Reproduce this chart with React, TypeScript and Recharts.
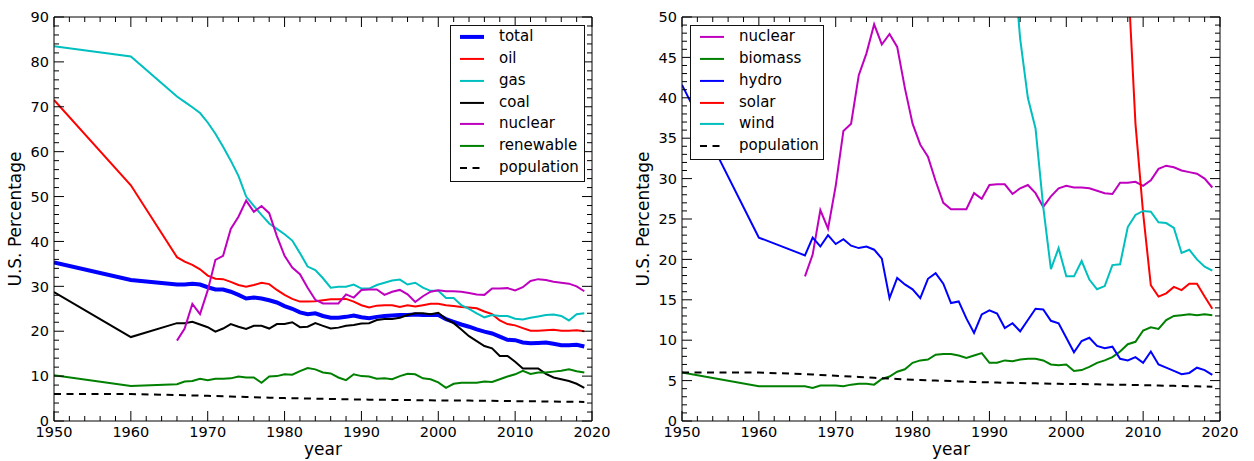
import React from 'react';
import { LineChart, Line, XAxis, YAxis, Legend } from 'recharts';

const FONT = '"DejaVu Sans", sans-serif';

// annual shares (%); 1950 and 1960 then yearly from 1966
const years = [
  1950, 1960,
  1966, 1967, 1968, 1969,
  1970, 1971, 1972, 1973, 1974, 1975, 1976, 1977, 1978, 1979,
  1980, 1981, 1982, 1983, 1984, 1985, 1986, 1987, 1988, 1989,
  1990, 1991, 1992, 1993, 1994, 1995, 1996, 1997, 1998, 1999,
  2000, 2001, 2002, 2003, 2004, 2005, 2006, 2007, 2008, 2009,
  2010, 2011, 2012, 2013, 2014, 2015, 2016, 2017, 2018, 2019,
];

const total = [
  35.3, 31.4,
  30.4, 30.4, 30.6, 30.4,
  29.8, 29.3, 29.3, 28.8, 28.1, 27.3, 27.5, 27.3, 26.9, 26.4,
  25.6, 25.0, 24.2, 23.8, 24.0, 23.4, 23.0, 23.0, 23.2, 23.5,
  23.1, 22.9, 23.2, 23.4, 23.5, 23.6, 23.6, 23.7, 23.6, 23.6,
  23.6, 22.7, 22.1, 21.5, 21.0, 20.4, 19.9, 19.5, 18.8, 18.1,
  18.0, 17.5, 17.3, 17.4, 17.5, 17.2, 16.9, 16.9, 17.0, 16.6,
];

const oil = [
  71.5, 52.5,
  36.5, 35.5, 34.8, 33.8,
  32.4, 31.7, 31.6, 31.0, 30.3, 29.9, 30.3, 30.8, 30.5, 29.2,
  28.1, 27.2, 26.6, 26.6, 26.7, 26.9, 27.1, 27.1, 27.2, 26.6,
  25.8, 25.3, 25.7, 25.8, 25.8, 25.4, 25.8, 25.5, 25.8, 26.1,
  26.1, 25.8, 25.6, 25.4, 25.3, 25.1, 24.4, 23.8, 22.4, 21.6,
  21.3, 20.7, 20.1, 20.1, 20.2, 20.3, 20.1, 20.1, 20.2, 20.0,
];

const gas = [
  83.5, 81.2,
  72.3, 71.1, 69.9, 68.6,
  66.5, 64.0, 61.1, 58.0, 54.6, 50.0, 47.9, 45.9, 44.0, 42.8,
  41.6, 40.2, 37.4, 34.4, 33.6, 31.8, 29.7, 29.9, 29.9, 30.4,
  29.5, 29.5, 30.3, 30.8, 31.3, 31.5, 30.4, 30.8, 29.7, 29.0,
  29.0, 27.4, 27.4, 25.8, 25.0, 24.0, 23.1, 23.6, 23.4, 23.4,
  22.8, 22.6, 23.0, 23.3, 23.6, 23.7, 23.4, 22.4, 23.8, 24.0,
];

const coal = [
  28.7, 18.7,
  21.8, 21.8, 22.1, 21.5,
  20.9, 19.9, 20.6, 21.6, 21.0, 20.5, 21.2, 21.2, 20.6, 21.6,
  21.6, 22.0, 20.9, 21.0, 21.8, 21.2, 20.6, 20.8, 21.2, 21.4,
  21.7, 21.8, 22.5, 22.7, 22.7, 23.0, 23.6, 24.0, 24.0, 23.8,
  24.1, 22.7, 21.8, 20.4, 18.9, 17.8, 16.7, 16.2, 14.5, 14.5,
  13.2, 11.7, 11.7, 11.7, 10.5, 9.7, 9.3, 8.9, 8.3, 7.4,
];

const nuclear = [
  null, null,
  17.9, 20.6, 26.1, 23.8,
  29.1, 35.9, 36.8, 42.8, 45.5, 49.1, 46.6, 47.9, 46.3, 41.2,
  36.8, 34.2, 32.7, 29.7, 27.0, 26.2, 26.2, 26.2, 28.2, 27.5,
  29.2, 29.3, 29.3, 28.1, 28.8, 29.2, 28.2, 26.5, 27.8, 28.8,
  29.1, 28.9, 28.9, 28.8, 28.5, 28.2, 28.1, 29.5, 29.5, 29.6,
  29.1, 29.8, 31.2, 31.6, 31.4, 31.0, 30.8, 30.6, 30.0, 28.9,
];

const renewable = [
  10.2, 7.8,
  8.2, 8.8, 8.9, 9.4,
  9.1, 9.4, 9.4, 9.5, 9.9, 9.7, 9.7, 8.5, 9.9, 10.0,
  10.4, 10.3, 11.1, 11.8, 11.5, 10.8, 10.6, 9.7, 9.1, 10.4,
  10.0, 9.9, 9.4, 9.5, 9.3, 10.0, 10.5, 10.4, 9.5, 9.3,
  8.6, 7.4, 8.3, 8.5, 8.5, 8.5, 8.8, 8.7, 9.3, 9.9,
  10.4, 11.2, 10.5, 10.8, 10.8, 11.0, 11.2, 11.5, 11.1, 10.8,
];

const population = [
  6.0, 6.0,
  5.8, 5.75, 5.7, 5.65,
  5.6, 5.55, 5.5, 5.45, 5.4, 5.35, 5.3, 5.25, 5.2, 5.15,
  5.1, 5.07, 5.04, 5.0, 4.97, 4.94, 4.9, 4.87, 4.84, 4.8,
  4.78, 4.76, 4.74, 4.72, 4.7, 4.68, 4.66, 4.64, 4.62, 4.6,
  4.59, 4.58, 4.57, 4.55, 4.54, 4.52, 4.5, 4.49, 4.47, 4.45,
  4.43, 4.41, 4.39, 4.37, 4.35, 4.33, 4.31, 4.29, 4.27, 4.25,
];

const biomass = [
  6.0, 4.3,
  4.3, 4.1, 4.4, 4.4,
  4.4, 4.3, 4.5, 4.6, 4.6, 4.5, 5.2, 5.5, 6.1, 6.4,
  7.2, 7.5, 7.6, 8.2, 8.3, 8.3, 8.1, 7.8, 8.1, 8.4,
  7.2, 7.2, 7.5, 7.4, 7.6, 7.7, 7.7, 7.5, 7.0, 6.9,
  7.0, 6.2, 6.3, 6.7, 7.2, 7.5, 7.9, 8.6, 9.5, 9.8,
  11.2, 11.6, 11.4, 12.5, 13.0, 13.1, 13.2, 13.1, 13.2, 13.1,
];

const hydro = [
  41.6, 22.7,
  20.5, 22.7, 21.6, 23.0,
  21.9, 22.5, 21.7, 21.4, 21.6, 21.2, 20.1, 15.2, 17.7, 16.9,
  16.3, 15.2, 17.6, 18.3, 17.0, 14.6, 14.8, 12.7, 10.9, 13.2,
  13.7, 13.3, 11.5, 12.1, 11.1, 12.5, 13.9, 13.8, 12.4, 12.1,
  10.3, 8.5, 9.9, 10.3, 9.3, 9.0, 9.2, 7.7, 7.5, 7.9,
  7.2, 8.6, 7.0, 6.6, 6.2, 5.8, 5.95, 6.6, 6.3, 5.7,
];

// early solar / wind values run far above the 50% ceiling and are clipped
const solar = [
  null, null,
  null, null, null, null,
  null, null, null, null, null, null, null, null, null, null,
  null, null, null, null, null, null, null, null, null, null,
  null, null, null, null, null, null, null, null, null, null,
  null, null, null, null, null, null, 140, 85, 55.5, 36.8,
  25.7, 16.8, 15.4, 15.8, 16.6, 16.2, 17.0, 17.0, 15.4, 13.9,
];

const wind = [
  null, null,
  null, null, null, null,
  null, null, null, null, null, null, null, null, null, null,
  null, null, null, null, null, null, null, null, null, null,
  140, 105, 78, 58.5, 47.3, 40.0, 36.2, 26.5, 18.8, 21.4,
  17.9, 17.9, 19.8, 17.5, 16.3, 16.7, 19.3, 19.4, 24.0, 25.5,
  26.0, 25.9, 24.6, 24.5, 23.9, 20.8, 21.2, 20.0, 19.1, 18.6,
];

const yearTicks = [
  1950, 1952, 1954, 1956, 1958, 1960, 1962, 1964, 1966, 1968,
  1970, 1972, 1974, 1976, 1978, 1980, 1982, 1984, 1986, 1988,
  1990, 1992, 1994, 1996, 1998, 2000, 2002, 2004, 2006, 2008,
  2010, 2012, 2014, 2016, 2018, 2020,
];

const leftTicks = [
  0, 2, 4, 6, 8, 10, 12, 14, 16, 18, 20, 22, 24, 26, 28, 30, 32, 34, 36, 38,
  40, 42, 44, 46, 48, 50, 52, 54, 56, 58, 60, 62, 64, 66, 68, 70, 72, 74, 76, 78,
  80, 82, 84, 86, 88, 90,
];

const rightTicks = [
  0, 1, 2, 3, 4, 5, 6, 7, 8, 9, 10, 11, 12, 13, 14, 15, 16, 17, 18, 19,
  20, 21, 22, 23, 24, 25, 26, 27, 28, 29, 30, 31, 32, 33, 34, 35, 36, 37, 38, 39,
  40, 41, 42, 43, 44, 45, 46, 47, 48, 49, 50,
];

const leftData = years.map((year, i) => ({
  year,
  total: total[i],
  oil: oil[i],
  gas: gas[i],
  coal: coal[i],
  nuclear: nuclear[i],
  renewable: renewable[i],
  population: population[i],
}));

const rightData = years.map((year, i) => ({
  year,
  nuclear: nuclear[i],
  biomass: biomass[i],
  hydro: hydro[i],
  solar: solar[i],
  wind: wind[i],
  population: population[i],
}));

type Series = { key: string; color: string; width: number; dash?: string };

const DASH = '7 5.5';

const leftSeries: Series[] = [
  { key: 'total', color: '#0000ff', width: 4 },
  { key: 'oil', color: '#ff0000', width: 2 },
  { key: 'gas', color: '#00bfbf', width: 2 },
  { key: 'coal', color: '#000000', width: 2 },
  { key: 'nuclear', color: '#bf00bf', width: 2 },
  { key: 'renewable', color: '#008000', width: 2 },
  { key: 'population', color: '#000000', width: 2, dash: DASH },
];

const rightSeries: Series[] = [
  { key: 'nuclear', color: '#bf00bf', width: 2 },
  { key: 'biomass', color: '#008000', width: 2 },
  { key: 'hydro', color: '#0000ff', width: 2 },
  { key: 'solar', color: '#ff0000', width: 2 },
  { key: 'wind', color: '#00bfbf', width: 2 },
  { key: 'population', color: '#000000', width: 2, dash: DASH },
];

type TickProps = {
  x?: number;
  y?: number;
  payload?: { value: number };
  major?: number;
  labels?: boolean;
};

// matplotlib-style inward ticks: long on majors, short on minors
const BottomTick = ({ x = 0, y = 0, payload, major = 10 }: TickProps) => {
  const v = payload ? payload.value : 0;
  const isMajor = v % major === 0;
  return (
    <g>
      <line x1={x} y1={y} x2={x} y2={y - (isMajor ? 10 : 5)} stroke="#000" />
      {isMajor && (
        <text x={x} y={y + 16} textAnchor="middle" fontSize={14.5} fontFamily={FONT} fill="#000">
          {v}
        </text>
      )}
    </g>
  );
};

const TopTick = ({ x = 0, y = 0, payload, major = 10 }: TickProps) => {
  const v = payload ? payload.value : 0;
  return <line x1={x} y1={y} x2={x} y2={y + (v % major === 0 ? 10 : 5)} stroke="#000" />;
};

const LeftTick = ({ x = 0, y = 0, payload, major = 10 }: TickProps) => {
  const v = payload ? payload.value : 0;
  const isMajor = v % major === 0;
  return (
    <g>
      <line x1={x} y1={y} x2={x + (isMajor ? 10 : 5)} y2={y} stroke="#000" />
      {isMajor && (
        <text x={x - 5} y={y} dy="0.36em" textAnchor="end" fontSize={14.5} fontFamily={FONT} fill="#000">
          {v}
        </text>
      )}
    </g>
  );
};

const RightTick = ({ x = 0, y = 0, payload, major = 10 }: TickProps) => {
  const v = payload ? payload.value : 0;
  return <line x1={x} y1={y} x2={x - (v % major === 0 ? 10 : 5)} y2={y} stroke="#000" />;
};

const ROW = 21.85;

const LegendBox = ({ series, width, height }: { series: Series[]; width: number; height: number }) => (
  <div
    style={{
      width,
      height,
      boxSizing: 'border-box',
      border: '1px solid #111',
      background: '#fff',
      fontFamily: FONT,
      fontSize: 15,
      color: '#000',
    }}
  >
    {series.map((s) => (
      <div key={s.key} style={{ display: 'flex', alignItems: 'center', height: ROW }}>
        <svg width={48} height={ROW} style={{ flex: 'none' }}>
          <line
            x1={9}
            x2={33}
            y1={ROW / 2}
            y2={ROW / 2}
            stroke={s.color}
            strokeWidth={s.width}
            strokeDasharray={s.dash}
          />
        </svg>
        <span style={{ lineHeight: `${ROW}px`, whiteSpace: 'nowrap' }}>{s.key}</span>
      </div>
    ))}
  </div>
);

type PanelProps = {
  data: Record<string, number | null>[];
  series: Series[];
  yTicks: number[];
  yMajor: number;
  marginLeft: number;
  marginRight: number;
  legend: { left: number; width: number; height: number };
};

const Panel = ({ data, series, yTicks, yMajor, marginLeft, marginRight, legend }: PanelProps) => {
  const yDomain = [0, yTicks[yTicks.length - 1]];
  return (
    <LineChart
      width={627}
      height={461}
      data={data}
      margin={{ top: 16, right: marginRight, bottom: 39, left: marginLeft }}
    >
      <XAxis
        xAxisId="x"
        dataKey="year"
        type="number"
        domain={[1950, 2020]}
        ticks={yearTicks}
        interval={0}
        allowDataOverflow
        height={1}
        tickSize={0}
        tickMargin={0}
        tickLine={false}
        axisLine={{ stroke: '#000' }}
        tick={<BottomTick major={10} />}
        label={{ value: 'year', position: 'bottom', offset: 21, fontSize: 17, fontFamily: FONT, fill: '#000' }}
      />
      <XAxis
        xAxisId="top"
        orientation="top"
        dataKey="year"
        type="number"
        domain={[1950, 2020]}
        ticks={yearTicks}
        interval={0}
        allowDataOverflow
        height={1}
        tickSize={0}
        tickMargin={0}
        tickLine={false}
        axisLine={{ stroke: '#000' }}
        tick={<TopTick major={10} />}
      />
      <YAxis
        yAxisId="y"
        type="number"
        domain={yDomain}
        ticks={yTicks}
        interval={0}
        allowDataOverflow
        width={1}
        tickSize={0}
        tickMargin={0}
        tickLine={false}
        axisLine={{ stroke: '#000' }}
        tick={<LeftTick major={yMajor} />}
        label={{
          value: 'U.S. Percentage',
          angle: -90,
          position: 'left',
          offset: 38,
          fontSize: 17,
          fontFamily: FONT,
          fill: '#000',
          style: { textAnchor: 'middle' },
        }}
      />
      <YAxis
        yAxisId="right"
        orientation="right"
        type="number"
        domain={yDomain}
        ticks={yTicks}
        interval={0}
        allowDataOverflow
        width={1}
        tickSize={0}
        tickMargin={0}
        tickLine={false}
        axisLine={{ stroke: '#000' }}
        tick={<RightTick major={yMajor} />}
      />
      <Legend
        layout="vertical"
        align="center"
        verticalAlign="middle"
        wrapperStyle={{ left: legend.left, top: 25, width: legend.width, height: legend.height }}
        content={() => <LegendBox series={series} width={legend.width} height={legend.height} />}
      />
      {series.map((s) => (
        <Line
          key={s.key}
          xAxisId="x"
          yAxisId="y"
          type="linear"
          dataKey={s.key}
          name={s.key}
          stroke={s.color}
          strokeWidth={s.width}
          strokeDasharray={s.dash}
          dot={false}
          activeDot={false}
          isAnimationActive={false}
        />
      ))}
    </LineChart>
  );
};

export default function App() {
  return (
    <div
      style={{
        position: 'absolute',
        left: 0,
        top: 0,
        width: 1254,
        height: 461,
        background: '#fff',
        fontFamily: FONT,
      }}
    >
      <div style={{ position: 'absolute', left: 0, top: 0 }}>
        <Panel
          data={leftData}
          series={leftSeries}
          yTicks={leftTicks}
          yMajor={10}
          marginLeft={53}
          marginRight={34}
          legend={{ left: 450, width: 135, height: 157 }}
        />
      </div>
      <div style={{ position: 'absolute', left: 627, top: 0 }}>
        <Panel
          data={rightData}
          series={rightSeries}
          yTicks={rightTicks}
          yMajor={5}
          marginLeft={54}
          marginRight={33}
          legend={{ left: 63, width: 134, height: 135 }}
        />
      </div>
    </div>
  );
}
